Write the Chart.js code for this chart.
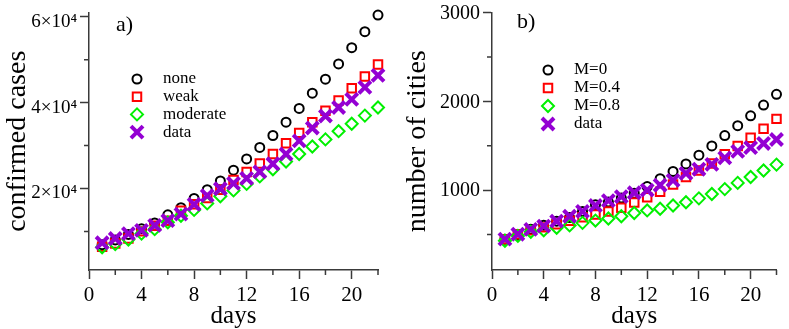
<!DOCTYPE html>
<html>
<head>
<meta charset="utf-8">
<script src="https://cdn.jsdelivr.net/npm/chart.js@4.4.0/dist/chart.umd.min.js"></script>
<style>
  html, body { margin: 0; padding: 0; background: #fff; }
  #wrap { position: relative; width: 789px; height: 329px; }
  #left { position: absolute; left: 0; top: 0; }
  #right { position: absolute; left: 400px; top: 0; }
</style>
</head>
<body>
<div id="wrap">
  <canvas id="left" width="400" height="329"></canvas>
  <canvas id="right" width="389" height="329"></canvas>
</div>
<script>
// days on the x axis (same for both panels)
const days = [1, 2, 3, 4, 5, 6, 7, 8, 9, 10, 11, 12, 13, 14, 15, 16, 17, 18, 19, 20, 21, 22];
const xTicks = [0, 4, 8, 12, 16, 20];
const xMinor = [2, 6, 10, 14, 18, 22];

// panel a) confirmed cases
const casesNone = [6900, 8000, 9300, 10600, 11980, 13860, 15520, 17660, 19700, 21750, 24250, 26890, 29550, 32340, 35450, 38640, 42200, 45450, 49020, 52800, 56520, 60390];
const casesWeak = [6430, 7200, 8340, 10000, 11300, 12500, 14800, 16300, 17800, 19700, 21970, 23860, 25840, 28020, 30520, 32950, 35450, 38110, 40520, 43340, 46070, 48860];
const casesModerate = [6300, 7050, 8110, 9480, 10520, 12110, 13640, 15000, 16520, 18180, 19550, 21060, 22800, 24470, 26290, 28020, 29770, 31430, 33340, 35070, 36980, 38860];
const casesData = [7340, 8340, 9480, 10230, 11400, 12500, 14020, 16300, 18340, 19930, 21200, 22340, 23860, 25750, 28020, 31070, 34090, 36890, 38860, 40750, 43570, 46360];
const casesLabels = ["none", "weak", "moderate", "data"];
const casesTicks = [20000, 40000, 60000];
const casesTickLabels = ["2×10⁴", "4×10⁴", "6×10⁴"];
const casesMinor = [10000, 30000, 50000];

// panel b) number of cities
const citiesM0 = [447, 492, 558, 605, 650, 690, 760, 834, 865, 910, 965, 1040, 1128, 1210, 1294, 1393, 1497, 1614, 1725, 1836, 1957, 2079];
const citiesM04 = [447, 503, 547, 580, 615, 655, 695, 724, 760, 800, 860, 918, 981, 1062, 1147, 1221, 1300, 1404, 1497, 1589, 1692, 1802];
const citiesM08 = [429, 484, 531, 547, 576, 602, 631, 657, 680, 705, 742, 771, 790, 826, 863, 907, 956, 1011, 1081, 1147, 1221, 1287];
const citiesData = [447, 503, 558, 594, 650, 705, 760, 826, 882, 926, 970, 1000, 1055, 1110, 1188, 1235, 1290, 1362, 1436, 1478, 1525, 1570];
const citiesLabels = ["M=0", "M=0.4", "M=0.8", "data"];
const citiesTicks = [1000, 2000, 3000];
const citiesTickLabels = ["1000", "2000", "3000"];
const citiesMinor = [500, 1500, 2500];

const SERIF = "'Liberation Serif', 'Times New Roman', serif";
const AXIS = "#3a3a3a";

// marker look for the four series, in legend order
const styles = [
  { pointStyle: "circle", pointRadius: 4.5, borderWidth: 2, borderColor: "#000000", order: 3 },
  { pointStyle: "rect", pointRadius: 6, borderWidth: 2, borderColor: "#ff0000", order: 2 },
  { pointStyle: "rectRot", pointRadius: 6, borderWidth: 2, borderColor: "#00f000", order: 1 },
  { pointStyle: "crossRot", pointRadius: 8.5, borderWidth: 4, borderColor: "#9400d3", order: 0 },
];

function toPoints(ys) {
  return days.map((d, i) => ({ x: d, y: ys[i] }));
}

// legend drawn inside the plot, plus the panel tag "a)" / "b)"
const insideLegend = {
  id: "insideLegend",
  afterDraw(chart, args, opts) {
    const ctx = chart.ctx;
    ctx.save();
    chart.data.datasets.forEach((ds, i) => {
      const y = opts.y + i * opts.gap;
      ctx.strokeStyle = ds.borderColor;
      ctx.fillStyle = "rgba(0,0,0,0)";
      ctx.lineWidth = ds.borderWidth;
      Chart.helpers.drawPoint(ctx, { pointStyle: ds.pointStyle, radius: ds.pointRadius, borderWidth: ds.borderWidth, rotation: 0 }, opts.x, y);
      ctx.fillStyle = "#000";
      ctx.font = "17px " + SERIF;
      ctx.textBaseline = "middle";
      ctx.textAlign = "left";
      ctx.fillText(ds.label, opts.x + 26, y);
    });
    ctx.font = "22px " + SERIF;
    ctx.textBaseline = "middle";
    ctx.fillStyle = "#000";
    ctx.fillText(opts.tag, opts.tagX, opts.tagY);
    ctx.restore();
  },
};

// shorter minor tick marks between the labelled ones
const minorTicks = {
  id: "minorTicks",
  afterDraw(chart, args, opts) {
    const ctx = chart.ctx;
    const xs = chart.scales.x, ys = chart.scales.y;
    ctx.save();
    ctx.strokeStyle = AXIS;
    ctx.lineWidth = 1.5;
    ctx.beginPath();
    opts.x.forEach((v) => {
      const px = xs.getPixelForValue(v);
      ctx.moveTo(px, xs.top);
      ctx.lineTo(px, xs.top + 5);
    });
    opts.y.forEach((v) => {
      const py = ys.getPixelForValue(v);
      ctx.moveTo(ys.right, py);
      ctx.lineTo(ys.right - 5, py);
    });
    ctx.stroke();
    ctx.restore();
  },
};

function makeChart(id, series, labels, yMin, yMax, yTicks, yTickLabels, yMinor, yTitle, pad, yWidth, legend) {
  return new Chart(document.getElementById(id), {
    type: "scatter",
    data: {
      datasets: series.map((ys, i) => ({
        label: labels[i],
        data: toPoints(ys),
        showLine: false,
        clip: false,
        backgroundColor: "rgba(0,0,0,0)",
        pointBorderWidth: styles[i].borderWidth,
        pointBorderColor: styles[i].borderColor,
        ...styles[i],
      })),
    },
    options: {
      responsive: false,
      animation: false,
      devicePixelRatio: 1,
      layout: { padding: pad },
      plugins: {
        legend: { display: false },
        tooltip: { enabled: false },
        insideLegend: legend,
        minorTicks: { x: xMinor, y: yMinor },
      },
      scales: {
        x: {
          type: "linear",
          min: 0,
          max: 22,
          afterBuildTicks: (s) => { s.ticks = xTicks.map((v) => ({ value: v })); },
          afterFit: (s) => { s.height = 59; s.paddingLeft = 0; s.paddingRight = 0; },
          border: { color: AXIS, width: 1.5 },
          grid: { drawOnChartArea: false, drawTicks: true, tickLength: 9, tickColor: AXIS, tickWidth: 1.5 },
          ticks: { color: "#000", font: { family: SERIF, size: 21 }, padding: 4, maxRotation: 0 },
          title: { display: true, text: "days", color: "#000", font: { family: SERIF, size: 25, lineHeight: 1 }, padding: { top: 0, bottom: 0 } },
        },
        y: {
          type: "linear",
          min: yMin,
          max: yMax,
          afterBuildTicks: (s) => { s.ticks = yTicks.map((v) => ({ value: v })); },
          afterFit: (s) => { s.width = yWidth; s.paddingTop = 0; s.paddingBottom = 0; },
          border: { color: AXIS, width: 1.5 },
          grid: { drawOnChartArea: false, drawTicks: true, tickLength: 9, tickColor: AXIS, tickWidth: 1.5 },
          ticks: {
            color: "#000",
            font: { family: SERIF, size: legend.tickSize },
            padding: 3,
            labelOffset: legend.labelOffset,
            callback: (v, i) => yTickLabels[i],
          },
          title: { display: true, text: yTitle, color: "#000", font: { family: SERIF, size: 28, lineHeight: 1 }, padding: { top: 4, bottom: 0 } },
        },
      },
    },
    plugins: [insideLegend, minorTicks],
  });
}

makeChart("left", [casesNone, casesWeak, casesModerate, casesData], casesLabels,
  1000, 61000, casesTicks, casesTickLabels, casesMinor, "confirmed cases",
  { top: 7, right: 22, left: 0, bottom: 0 }, 89,
  { x: 137, y: 79, gap: 17.7, tag: "a)", tagX: 116, tagY: 25, labelOffset: 5, tickSize: 19 });

makeChart("right", [citiesM0, citiesM04, citiesM08, citiesData], citiesLabels,
  100, 3000, citiesTicks, citiesTickLabels, citiesMinor, "number of cities",
  { top: 7, right: 7, left: 0, bottom: 0 }, 92,
  { x: 148, y: 70, gap: 18, tag: "b)", tagX: 117, tagY: 22, labelOffset: 1, tickSize: 20 });
</script>
</body>
</html>
